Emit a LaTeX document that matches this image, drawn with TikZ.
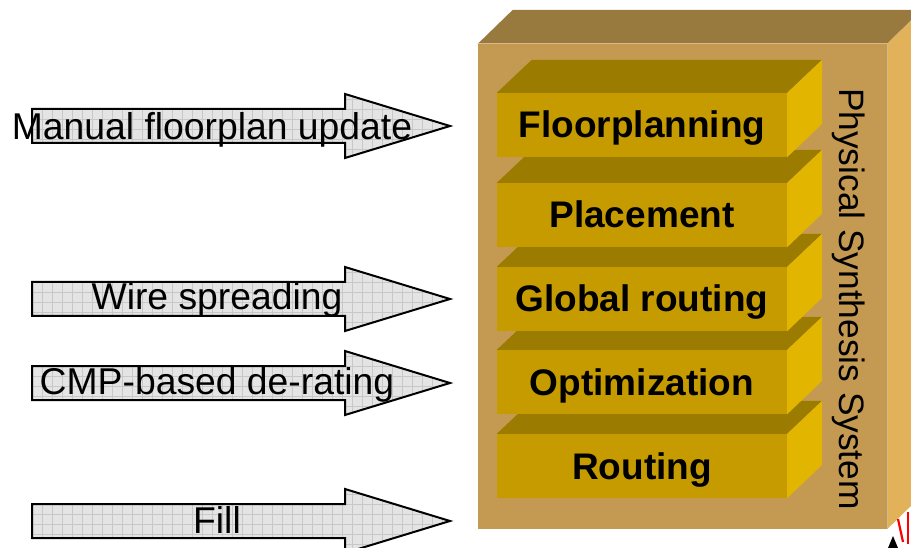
\documentclass[tikz,border=0pt]{standalone}
\usepackage{fontspec}
\setmainfont{Liberation Sans}

% outer box colours
\definecolor{sysfrontc}{RGB}{196,154,82}
\definecolor{systopc}{RGB}{153,122,62}
\definecolor{syssidec}{RGB}{225,178,90}
% layer colours
\definecolor{layerfrontc}{RGB}{197,155,0}
\definecolor{layertopc}{RGB}{155,123,0}
\definecolor{layersidec}{RGB}{226,181,0}
% arrow colours
\definecolor{arrowfillc}{RGB}{228,228,228}
\definecolor{arrowgridc}{RGB}{200,200,200}

\tikzset{
  sysbox/.style={fill=sysfrontc, minimum width=409pt, minimum height=485pt, inner sep=0pt},
  systop/.style={fill=systopc},
  sysside/.style={fill=syssidec},
  layer/.style={fill=layerfrontc, minimum width=290pt, minimum height=64pt, inner sep=0pt,
    font=\fontsize{37}{40}\selectfont\bfseries, text height=26pt, text depth=0pt},
  layertop/.style={fill=layertopc},
  layerside/.style={fill=layersidec},
  arrowgrid/.style={draw=arrowgridc, line width=0.5pt},
  arrowline/.style={draw=black, line width=2pt, line join=miter},
  feedtext/.style={font=\fontsize{37.3}{40}\selectfont, anchor=base, inner sep=0pt},
  systext/.style={font=\fontsize{35.3}{40}\selectfont, anchor=base, inner sep=0pt, rotate=-90}
}

% one stacked layer: name, centre y, label
\newcommand\layerblock[3]{%
  \node[layer] (#1) at (642,#2) {#3};
  \fill[layertop] (#1.north west) -- ++(35,-33) -- ++(290,0) -- (#1.north east) -- cycle;
  \fill[layerside] (#1.north east) -- ++(35,-33) -- ++(0,64) -- (#1.south east) -- cycle;
}

% input arrow: name, centre y, label x, label baseline y, label
\newcommand\feedarrow[5]{%
  \begin{scope}
    \clip (32,{#2-17}) -- (345,{#2-17}) -- (345,{#2-32}) -- (450,#2) -- (345,{#2+32}) -- (345,{#2+17}) -- (32,{#2+17}) -- cycle;
    \fill[arrowfillc] (20,{#2-40}) rectangle (460,{#2+40});
    \foreach \gx in {32,42,...,452} {\draw[arrowgrid] (\gx,{#2-40}) -- (\gx,{#2+40});}
    \foreach \gy in {-40,-30,...,40} {\draw[arrowgrid] (20,{#2+\gy+3}) -- (460,{#2+\gy+3});}
  \end{scope}
  \draw[arrowline] (32,{#2-17}) -- (345,{#2-17}) -- (345,{#2-32}) -- (450,#2) -- (345,{#2+32}) -- (345,{#2+17}) -- (32,{#2+17}) -- cycle;
  \node[feedtext] (#1) at (#3,#4) {#5};
}

\begin{document}
\begin{tikzpicture}[x=1pt,y=-1pt]
  \useasboundingbox (0,0) rectangle (911,548);
  \clip (0,0) rectangle (911,548);

  % outer physical synthesis box
  \node[sysbox] (sys) at (682.5,286.5) {};
  \fill[systop] (sys.north west) -- ++(35,-34) -- ++(409,0) -- (sys.north east) -- cycle;
  \fill[sysside] (sys.north east) -- ++(35,-34) -- ++(0,485) -- (sys.south east) -- cycle;
  \draw[sysfrontc!70!white, line width=0.6pt] (sys.north west) -- (sys.north east) -- (sys.south east);
  \node[systext] (syslabel) at (839,299) {Physical Synthesis System};

  % stacked layers, drawn bottom to top
  \layerblock{route}{466}{Routing}
  \layerblock{opt}{382}{Optimization}
  \layerblock{groute}{299}{Global routing}
  \layerblock{place}{215}{Placement}
  \layerblock{floor}{125}{Floorplanning}

  % inputs from the left
  \feedarrow{manual}{126}{212}{140}{Manual floorplan update}
  \feedarrow{wire}{299}{217}{310}{Wire spreading}
  \feedarrow{cmp}{383}{217}{394}{CMP-based de-rating}
  \feedarrow{fill}{521}{217}{533}{Fill}

  % corner mark
  \fill[black] (893,536) -- (898,548) -- (888,548) -- cycle;
  \draw[red, line width=2.2pt] (898,519) -- (903,542);
  \draw[red, line width=2.2pt] (908,512) -- (908,544);
\end{tikzpicture}
\end{document}
